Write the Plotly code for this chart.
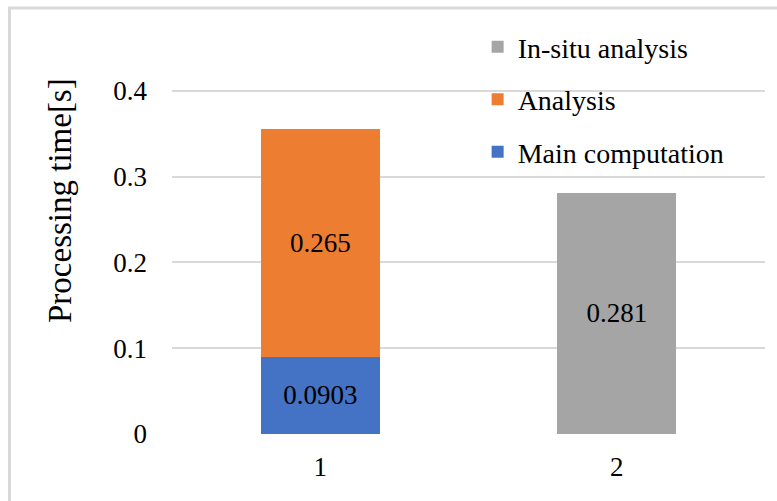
import plotly.graph_objects as go

categories = ["1", "2"]
main_computation = [0.0903, None]
analysis = [0.265, None]
insitu_analysis = [None, 0.281]
labels_main = ["0.0903", ""]
labels_analysis = ["0.265", ""]
labels_insitu = ["", "0.281"]
yticks = [0, 0.1, 0.2, 0.3, 0.4]
ytick_text = ["0", "0.1", "0.2", "0.3", "0.4"]

FONT = "Liberation Serif"
FS = 27

fig = go.Figure()
fig.add_trace(go.Bar(x=categories, y=main_computation, name="Main computation",
                     marker_color="#4472C4", text=labels_main, textposition="inside",
                     insidetextanchor="middle", legendgroup="a", legendrank=3))
fig.add_trace(go.Bar(x=categories, y=analysis, name="Analysis",
                     marker_color="#ED7D31", text=labels_analysis, textposition="inside",
                     insidetextanchor="middle", legendgroup="b", legendrank=2))
fig.add_trace(go.Bar(x=categories, y=insitu_analysis, name="In-situ analysis",
                     marker_color="#A5A5A5", text=labels_insitu, textposition="inside",
                     insidetextanchor="middle", legendgroup="c", legendrank=1))
fig.update_traces(textfont=dict(family=FONT, size=FS, color="black"),
                  marker_line_width=0, textangle=0, cliponaxis=False)

fig.update_layout(
    width=777, height=501,
    barmode="stack", bargap=0.6,
    margin=dict(l=172, r=12, t=48, b=67, autoexpand=False),
    paper_bgcolor="white", plot_bgcolor="white",
    font=dict(family=FONT, size=FS, color="black"),
    legend=dict(x=0.5154, y=1.067, xanchor="left", yanchor="top",
                traceorder="grouped", tracegroupgap=13,
                font=dict(family=FONT, size=28, color="black"),
                bgcolor="rgba(0,0,0,0)"),
    xaxis=dict(showgrid=False, showline=False, zeroline=False,
               tickfont=dict(family=FONT, size=FS), ticklabelstandoff=14),
    yaxis=dict(range=[0, 0.45], tickvals=yticks, ticktext=ytick_text,
               showgrid=True, gridcolor="#d9d9d9", gridwidth=1.5,
               zeroline=False, showline=False,
               tickfont=dict(family=FONT, size=FS), ticklabelstandoff=24),
    shapes=[dict(type="rect", xref="paper", yref="paper",
                 x0=-0.274, x1=1.2, y0=-0.5, y1=1.1036,
                 line=dict(color="#d9d9d9", width=3), layer="below")],
    annotations=[dict(text="Processing time[s]", textangle=-90, xref="paper", yref="paper",
                      x=-0.189, y=0.606, xanchor="center", yanchor="middle",
                      showarrow=False, font=dict(family=FONT, size=33, color="black"))],
)
fig.write_html("out.html", config={"displayModeBar": False},
               post_script="document.body.style.margin='0';document.body.style.padding='0';")
